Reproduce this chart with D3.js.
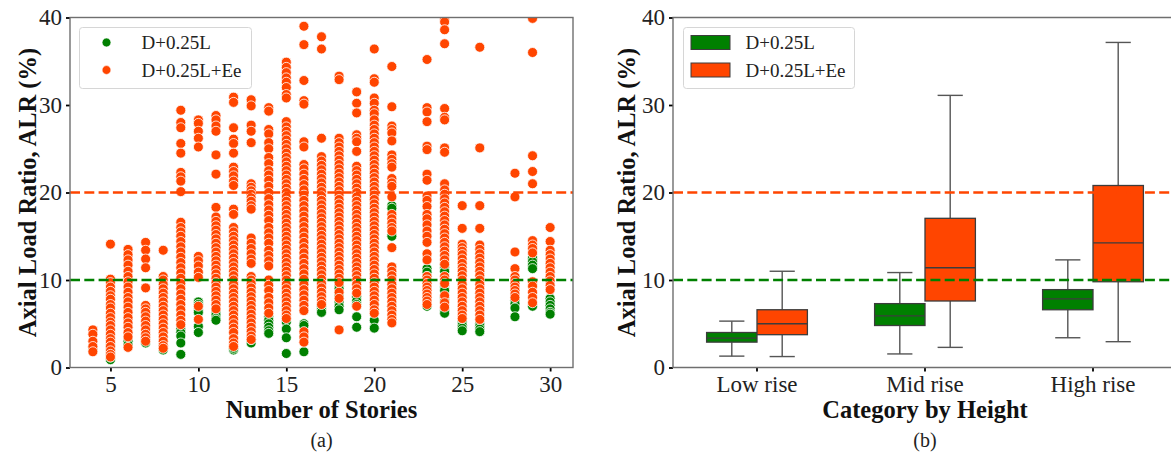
<!DOCTYPE html>
<html>
<head>
<meta charset="utf-8">
<script src="https://cdn.jsdelivr.net/npm/d3@7"></script>
<style>
  html, body { margin: 0; padding: 0; background: #fff; }
  svg { display: block; font-family: "Liberation Serif", "Times New Roman", serif; }
</style>
</head>
<body>
<svg id="chart" width="1171" height="457"></svg>
<script>
// ---- Data -------------------------------------------------------------
const seriesNames = ["D+0.25L", "D+0.25L+Ee"];
const seriesColors = ["#008000", "#ff4500"];

// Number of stories of each building group
const stories = [4, 5, 6, 7, 8, 9, 10, 11, 12, 13, 14, 15, 16, 17, 18, 19, 20, 21, 23, 24, 25, 26, 28, 29, 30];

// Axial load ratio (%) under gravity, D+0.25L, one list per story group
const alrGravity = [
  [2.3, 2.0],
  [0.9, 1.2, 1.6, 2.0, 2.5],
  [3.0, 2.6],
  [2.8, 3.2],
  [2.0, 2.5],
  [4.4, 4.0, 3.6, 2.8, 1.5],
  [7.5, 7.2, 6.5, 6.3, 4.7, 4.0],
  [6.3, 6.0, 5.6, 5.4],
  [2.0, 2.2],
  [2.8, 3.2],
  [5.8, 5.4, 5.0, 4.6, 4.2, 3.9],
  [5.2, 4.4, 3.4, 1.6],
  [5.0, 4.8, 1.8],
  [7.0, 6.6, 6.3],
  [9.3, 9.0, 8.3, 7.5, 7.0, 6.6],
  [8.1, 7.6, 7.2, 5.8, 4.6],
  [5.4, 4.5],
  [18.5, 18.2, 15.2, 15.0, 9.0, 7.0],
  [11.3, 10.9, 10.4, 7.6, 7.0],
  [11.8, 11.4, 11.0, 9.2, 8.8, 8.0, 7.6, 6.5, 6.2],
  [5.2, 4.8, 4.5, 4.2],
  [5.0, 4.7, 4.4, 4.1],
  [7.7, 7.3, 6.8, 5.8],
  [12.5, 12.1, 11.7, 11.3, 7.0],
  [7.9, 7.5, 7.1, 6.7, 6.3, 6.1]
];

// Axial load ratio (%) with earthquake, D+0.25L+Ee, one list per story group
const alrSeismic = [
  [4.3, 3.8, 3.0, 2.4, 1.8],
  [14.1, 10.1, 9.7, 9.2, 8.7, 8.2, 7.8, 7.2, 6.8, 6.2, 5.7, 5.2, 4.8, 4.3, 3.8, 3.3, 2.9, 2.4, 1.9, 1.5, 1.2],
  [13.5, 12.9, 12.3, 11.7, 11.0, 10.4, 9.8, 9.2, 8.6, 8.0, 7.5, 6.9, 6.3, 5.7, 5.1, 4.6, 4.0, 3.5, 2.3],
  [14.3, 13.4, 12.4, 11.4, 9.1, 7.1, 6.7, 6.3, 5.8, 5.3, 4.8, 4.3, 3.8, 3.4, 3.0],
  [13.4, 10.4, 10.0, 9.5, 9.0, 8.5, 8.0, 7.5, 7.0, 6.5, 6.0, 5.5, 5.0, 4.5, 4.0, 3.5, 3.0, 2.5, 2.2],
  [29.4, 28.0, 27.4, 25.6, 24.5, 22.3, 21.8, 21.3, 20.1, 16.6, 16.0, 15.5, 15.0, 14.4, 13.8, 13.2, 12.6, 12.0, 11.4, 10.8, 10.2, 9.6, 9.0, 8.4, 7.8, 7.2, 6.6, 6.0, 5.4, 4.9],
  [28.3, 27.9, 27.0, 26.2, 25.2, 12.7, 12.2, 11.6, 10.9, 10.3, 7.0, 5.5],
  [28.8, 28.3, 27.6, 27.0, 24.3, 22.1, 18.3, 17.2, 16.7, 16.2, 15.7, 15.2, 14.7, 14.2, 13.7, 13.2, 12.7, 12.2, 11.7, 11.2, 10.7, 10.2, 9.7, 9.2, 8.7, 8.2, 7.7, 7.2, 6.7],
  [30.9, 30.3, 27.4, 26.1, 25.6, 24.5, 22.9, 22.4, 21.9, 21.3, 20.8, 18.1, 17.5, 16.0, 15.5, 15.0, 14.5, 14.0, 13.5, 13.0, 12.5, 12.0, 11.5, 11.0, 10.5, 10.0, 9.5, 9.0, 8.5, 8.0, 7.5, 7.0, 6.5, 6.0, 5.5, 5.0, 4.5, 4.0, 3.3, 2.8, 2.4],
  [30.6, 29.9, 27.7, 27.0, 25.7, 21.0, 20.6, 20.2, 19.8, 19.4, 19.0, 18.5, 18.1, 14.8, 14.2, 13.6, 13.0, 12.4, 11.9, 10.4, 10.0, 9.6, 9.1, 8.6, 8.1, 7.6, 7.1, 6.6, 6.1, 5.6, 5.1, 4.6, 4.1, 3.6, 3.2],
  [29.7, 29.3, 27.2, 26.7, 25.7, 25.0, 24.0, 23.3, 22.5, 22.0, 21.4, 20.7, 20.0, 19.3, 18.6, 18.0, 17.4, 16.8, 16.0, 15.4, 14.8, 14.2, 13.4, 12.8, 12.2, 11.6, 10.0, 9.4, 8.8, 8.0, 7.4, 6.8, 6.2],
  [34.9, 34.3, 33.7, 33.1, 32.6, 32.0, 31.2, 30.8, 28.1, 27.5, 27.0, 26.5, 26.0, 25.5, 25.0, 24.5, 24.0, 23.5, 23.0, 22.5, 22.0, 21.5, 21.0, 20.5, 20.0, 19.5, 19.0, 18.5, 18.0, 17.5, 17.0, 16.5, 16.0, 15.5, 15.0, 14.5, 14.0, 13.5, 13.0, 12.5, 12.0, 11.5, 11.0, 10.5, 10.0, 9.5, 9.0, 8.5, 8.0, 7.5, 7.0, 6.5, 6.0, 5.6],
  [39.0, 36.9, 32.8, 30.5, 30.1, 25.8, 25.2, 23.2, 22.7, 22.1, 21.5, 20.9, 20.3, 19.7, 19.1, 18.5, 17.9, 17.3, 16.7, 16.1, 15.5, 14.9, 14.3, 13.7, 13.1, 12.5, 11.9, 11.3, 10.7, 10.1, 9.5, 8.9, 8.3, 7.7, 7.1, 6.5, 4.1, 3.5, 2.9],
  [37.8, 36.4, 26.2, 24.1, 23.6, 23.1, 22.6, 22.1, 21.6, 21.1, 20.6, 20.1, 19.6, 19.1, 18.6, 18.1, 17.6, 17.1, 16.6, 16.1, 15.6, 15.1, 14.6, 14.1, 13.6, 13.1, 12.6, 12.1, 11.6, 11.1, 10.6, 10.1, 9.6, 9.1, 8.6, 8.1, 7.6, 7.2],
  [33.3, 32.9, 26.2, 25.7, 25.2, 24.7, 24.2, 23.7, 23.2, 22.7, 22.2, 21.7, 21.2, 20.7, 20.2, 19.7, 19.2, 18.7, 18.2, 17.7, 17.2, 16.7, 16.2, 15.7, 15.2, 14.7, 14.2, 13.7, 13.2, 12.7, 12.2, 11.7, 11.2, 10.7, 10.2, 9.7, 8.6, 7.9, 4.3],
  [31.5, 30.2, 29.1, 26.6, 26.2, 25.8, 24.7, 23.0, 22.5, 22.0, 21.5, 21.0, 20.5, 20.0, 19.5, 19.0, 18.5, 18.0, 17.5, 17.0, 16.5, 16.0, 15.5, 15.0, 14.5, 14.0, 13.5, 13.0, 12.5, 12.0, 11.5, 11.0, 10.5, 10.0, 9.5, 9.0, 8.5, 7.0],
  [36.4, 33.0, 32.6, 30.8, 30.2, 29.4, 29.0, 28.3, 27.7, 27.2, 26.7, 26.2, 25.7, 25.2, 24.7, 24.2, 23.7, 23.2, 22.7, 22.2, 21.7, 21.2, 20.7, 20.2, 19.7, 19.2, 18.7, 18.2, 17.7, 17.2, 16.7, 16.2, 15.7, 15.2, 14.7, 14.2, 13.7, 13.2, 12.7, 12.2, 11.7, 11.2, 10.7, 10.2, 9.7, 9.2, 8.7, 8.2, 7.7, 7.2, 6.6, 6.2],
  [34.4, 29.8, 27.6, 27.2, 26.8, 25.9, 24.3, 23.8, 23.3, 22.9, 21.6, 21.1, 20.7, 19.5, 17.5, 17.0, 16.5, 16.0, 15.6, 13.7, 11.5, 11.0, 10.5, 10.0, 9.5, 9.0, 8.5, 8.0, 7.5, 7.0, 6.5, 6.0, 5.5, 5.1],
  [35.2, 29.7, 29.2, 28.1, 25.3, 24.9, 22.1, 21.4, 19.6, 19.1, 18.4, 17.5, 17.0, 16.3, 15.6, 15.0, 14.3, 13.0, 12.3, 10.4, 10.0, 9.6, 9.2, 8.8, 8.4, 8.0, 7.6, 7.2],
  [39.8, 39.5, 38.6, 37.0, 29.6, 28.6, 28.3, 25.1, 24.6, 21.0, 20.3, 19.8, 19.3, 18.8, 18.3, 17.8, 17.3, 16.8, 16.3, 15.8, 15.3, 14.8, 14.3, 13.8, 13.3, 12.8, 12.3, 11.8, 10.4, 10.0, 9.6, 8.2, 7.4, 6.9],
  [18.5, 15.9, 14.1, 13.7, 13.3, 12.9, 12.4, 11.9, 11.4, 11.0, 10.5, 10.0, 9.5, 9.0, 8.5, 8.0, 7.5, 7.0, 6.5, 6.0, 5.6],
  [36.6, 25.1, 18.5, 15.9, 14.0, 13.5, 13.0, 12.5, 12.0, 11.5, 11.0, 10.5, 10.0, 9.5, 9.0, 8.5, 8.0, 7.5, 7.0, 6.5, 6.0, 5.5],
  [22.2, 19.5, 13.2, 11.3, 10.4, 10.0, 9.6, 9.2, 8.8, 8.4, 8.0],
  [39.9, 36.0, 24.2, 22.4, 21.0, 14.5, 14.0, 13.6, 13.1, 9.8, 9.3, 8.6, 8.0, 7.4],
  [16.0, 14.4, 13.4, 12.9, 12.4, 11.9, 11.4, 10.9, 10.4, 9.9, 9.4, 8.9]
];

// Box plot statistics by height category: [lower whisker, Q1, median, Q3, upper whisker]
const heightCategories = ["Low rise", "Mid rise", "High rise"];
const boxGravity = [
  [1.3, 2.9, 3.35, 4.0, 5.3],
  [1.55, 4.8, 5.9, 7.3, 10.85],
  [3.4, 6.6, 7.85, 8.9, 12.3]
];
const boxSeismic = [
  [1.25, 3.75, 5.0, 6.6, 11.0],
  [2.3, 7.6, 11.4, 17.05, 31.1],
  [2.95, 9.8, 14.25, 20.8, 37.15]
];

// Reference limits drawn as dashed lines
const limitGravity = 10;
const limitSeismic = 20;

const yTicks = [0, 10, 20, 30, 40];
const xTicksStories = [5, 10, 15, 20, 25, 30];

// ---- Layout -----------------------------------------------------------
const svg = d3.select("#chart");
const plotTop = 17.5, plotBottom = 367.5;
const tickFont = 23, labelFont = 24.5, legendFont = 19;
const spineColor = "#6f6f6f";

const yScaleL = d3.scaleLinear().domain([0, 40]).range([plotBottom, plotTop]);
const xScaleL = d3.scaleLinear().domain([2.7, 31.3]).range([70, 573]);

const xBand = d3.scaleBand().domain(heightCategories).range([673, 1177]).padding(0);
const hueBand = d3.scaleBand().domain(seriesNames).range([-0.3 * xBand.bandwidth(), 0.3 * xBand.bandwidth()]);
const yScaleR = d3.scaleLinear().domain([0, 40]).range([plotBottom, plotTop]);

function styleAxis(g) {
  g.select(".domain").remove();
  g.selectAll(".tick line").attr("stroke", "#000").attr("stroke-width", 1.8);
  g.selectAll(".tick text").attr("font-family", "Liberation Serif, Times New Roman, serif")
    .attr("font-size", tickFont).attr("fill", "#222");
}

// ---- Panel (a): scatter ----------------------------------------------
const pa = svg.append("g");
pa.append("defs").append("clipPath").attr("id", "clipA")
  .append("rect").attr("x", 70).attr("y", plotTop).attr("width", 503).attr("height", plotBottom - plotTop);

pa.append("g").attr("transform", `translate(0,${plotBottom})`)
  .call(d3.axisBottom(xScaleL).tickValues(xTicksStories).tickSize(4).tickPadding(4))
  .call(styleAxis);
pa.append("g").attr("transform", `translate(70,0)`)
  .call(d3.axisLeft(yScaleL).tickValues(yTicks).tickSize(4).tickPadding(4))
  .call(styleAxis);

const dotsA = pa.append("g").attr("clip-path", "url(#clipA)");
const gravityPts = stories.flatMap((s, i) => alrGravity[i].map(v => ({ s, v })));
const seismicPts = stories.flatMap((s, i) => alrSeismic[i].map(v => ({ s, v })));
[[gravityPts, seriesColors[0]], [seismicPts, seriesColors[1]]].forEach(([pts, col]) => {
  dotsA.append("g").selectAll("circle").data(pts).join("circle")
    .attr("cx", d => xScaleL(d.s)).attr("cy", d => yScaleL(d.v))
    .attr("r", 5).attr("fill", col).attr("stroke", "#fff").attr("stroke-width", 0.8);
});

function limitLines(g, x0, x1, yScale) {
  [[limitSeismic, seriesColors[1]], [limitGravity, seriesColors[0]]].forEach(([v, c]) => {
    g.append("line").attr("x1", x0).attr("x2", x1)
      .attr("y1", yScale(v)).attr("y2", yScale(v))
      .attr("stroke", c).attr("stroke-width", 2.6).attr("stroke-dasharray", "10,4.3");
  });
}
limitLines(pa, 70, 573, yScaleL);

pa.append("rect").attr("x", 70).attr("y", plotTop).attr("width", 503).attr("height", plotBottom - plotTop)
  .attr("fill", "none").attr("stroke", spineColor).attr("stroke-width", 1.4);

// legend (a)
const legA = pa.append("g");
legA.append("rect").attr("x", 79.5).attr("y", 27.5).attr("width", 172).attr("height", 61)
  .attr("rx", 3).attr("fill", "#fff").attr("fill-opacity", 0.85).attr("stroke", "#d6d6d6");
seriesNames.forEach((name, i) => {
  const cy = 42.5 + i * 27.5;
  legA.append("circle").attr("cx", 106.5).attr("cy", cy).attr("r", 4.4)
    .attr("fill", seriesColors[i]).attr("stroke", "#fff").attr("stroke-width", 0.6);
  legA.append("text").attr("x", 141.5).attr("y", cy + 6.5).attr("font-size", legendFont)
    .attr("fill", "#222").text(name);
});

pa.append("text").attr("x", 321.5).attr("y", 418).attr("text-anchor", "middle")
  .attr("font-size", labelFont).attr("font-weight", "bold").attr("fill", "#111").text("Number of Stories");
pa.append("text").attr("transform", "translate(36,192.5) rotate(-90)").attr("text-anchor", "middle")
  .attr("font-size", labelFont).attr("font-weight", "bold").attr("fill", "#111").text("Axial Load Ratio, ALR (%)");
pa.append("text").attr("x", 321.5).attr("y", 447).attr("text-anchor", "middle")
  .attr("font-size", 20).attr("fill", "#222").text("(a)");

// ---- Panel (b): box plots ---------------------------------------------
const pb = svg.append("g");
pb.append("g").attr("transform", `translate(0,${plotBottom})`)
  .call(d3.axisBottom(xBand).tickSize(4).tickPadding(4))
  .call(styleAxis);
pb.append("g").attr("transform", `translate(673,0)`)
  .call(d3.axisLeft(yScaleR).tickValues(yTicks).tickSize(4).tickPadding(4))
  .call(styleAxis);

const boxW = hueBand.bandwidth();
[boxGravity, boxSeismic].forEach((stats, si) => {
  heightCategories.forEach((cat, ci) => {
    const [lo, q1, med, q3, hi] = stats[ci];
    const x0 = xBand(cat) + xBand.bandwidth() / 2 + hueBand(seriesNames[si]);
    const xc = x0 + boxW / 2;
    const g = pb.append("g");
    const wc = "#555";
    g.append("line").attr("x1", xc).attr("x2", xc).attr("y1", yScaleR(q3)).attr("y2", yScaleR(hi))
      .attr("stroke", wc).attr("stroke-width", 1.4);
    g.append("line").attr("x1", xc).attr("x2", xc).attr("y1", yScaleR(q1)).attr("y2", yScaleR(lo))
      .attr("stroke", wc).attr("stroke-width", 1.4);
    [lo, hi].forEach(v => g.append("line").attr("x1", xc - boxW / 4).attr("x2", xc + boxW / 4)
      .attr("y1", yScaleR(v)).attr("y2", yScaleR(v)).attr("stroke", wc).attr("stroke-width", 1.4));
    g.append("rect").attr("x", x0).attr("y", yScaleR(q3)).attr("width", boxW)
      .attr("height", yScaleR(q1) - yScaleR(q3)).attr("fill", seriesColors[si])
      .attr("stroke", "#3c3c3c").attr("stroke-width", 1.3);
    g.append("line").attr("x1", x0).attr("x2", x0 + boxW).attr("y1", yScaleR(med)).attr("y2", yScaleR(med))
      .attr("stroke", "#3c3c3c").attr("stroke-width", 1.3);
  });
});

limitLines(pb, 673, 1171, yScaleR);

pb.append("path").attr("d", `M1177,${plotTop}H673V${plotBottom}H1177`)
  .attr("fill", "none").attr("stroke", spineColor).attr("stroke-width", 1.4);

// legend (b)
const legB = pb.append("g");
legB.append("rect").attr("x", 683.5).attr("y", 27.5).attr("width", 171).attr("height", 61)
  .attr("rx", 3).attr("fill", "#fff").attr("fill-opacity", 0.85).attr("stroke", "#d6d6d6");
seriesNames.forEach((name, i) => {
  const cy = 42.5 + i * 27.5;
  legB.append("rect").attr("x", 691).attr("y", cy - 7).attr("width", 39).attr("height", 14)
    .attr("fill", seriesColors[i]).attr("stroke", "#3c3c3c").attr("stroke-width", 1);
  legB.append("text").attr("x", 745.5).attr("y", cy + 6.5).attr("font-size", legendFont)
    .attr("fill", "#222").text(name);
});

pb.append("text").attr("x", 925).attr("y", 418).attr("text-anchor", "middle")
  .attr("font-size", labelFont).attr("font-weight", "bold").attr("fill", "#111").text("Category by Height");
pb.append("text").attr("transform", "translate(635,192.5) rotate(-90)").attr("text-anchor", "middle")
  .attr("font-size", labelFont).attr("font-weight", "bold").attr("fill", "#111").text("Axial Load Ratio, ALR (%)");
pb.append("text").attr("x", 925).attr("y", 447).attr("text-anchor", "middle")
  .attr("font-size", 20).attr("fill", "#222").text("(b)");
</script>
</body>
</html>
